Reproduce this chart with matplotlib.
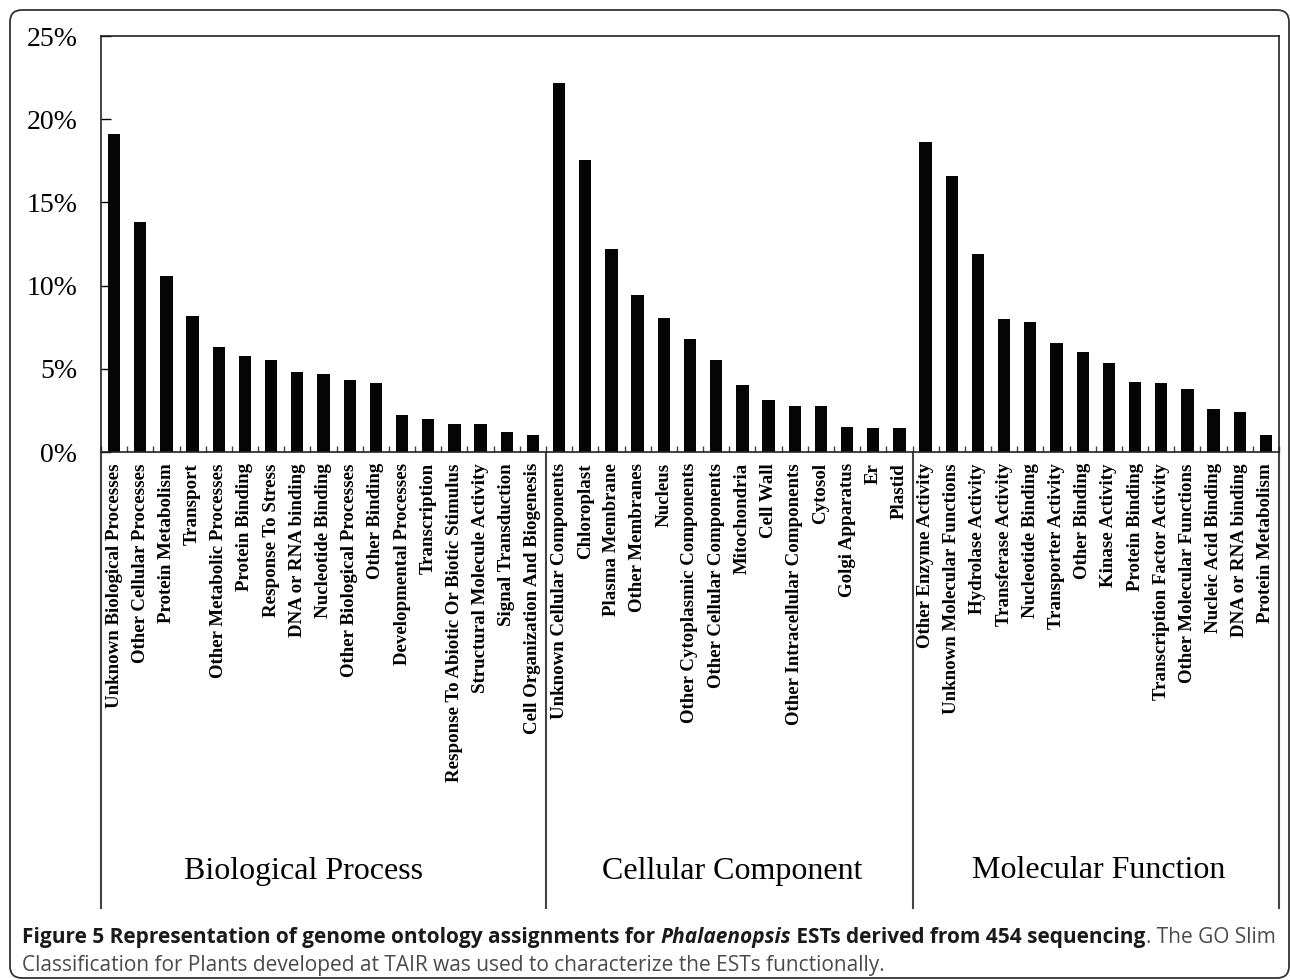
import matplotlib
matplotlib.use("Agg")
import matplotlib.pyplot as plt
from matplotlib.patches import FancyBboxPatch
import numpy as np

bp_labels = ["Unknown Biological Processes", "Other Cellular Processes", "Protein Metabolism",
             "Transport", "Other Metabolic Processes", "Protein Binding", "Response To Stress",
             "DNA or RNA binding", "Nucleotide Binding", "Other Biological Processes",
             "Other Binding", "Developmental Processes", "Transcription",
             "Response To Abiotic Or Biotic Stimulus", "Structural Molecule Activity",
             "Signal Transduction", "Cell Organization And Biogenesis"]
bp_values = [19.14, 13.82, 10.58, 8.17, 6.31, 5.74, 5.52, 4.78, 4.68, 4.30, 4.12, 2.25,
             2.0, 1.68, 1.68, 1.18, 1.03]

cc_labels = ["Unknown Cellular Components", "Chloroplast", "Plasma Membrane", "Other Membranes",
             "Nucleus", "Other Cytoplasmic Components", "Other Cellular Components",
             "Mitochondria", "Cell Wall", "Other Intracellular Components", "Cytosol",
             "Golgi Apparatus", "Er", "Plastid"]
cc_values = [22.19, 17.53, 12.17, 9.42, 8.05, 6.77, 5.54, 4.02, 3.13, 2.79, 2.79, 1.51, 1.43, 1.43]

mf_labels = ["Other Enzyme Activity", "Unknown Molecular Functions", "Hydrolase Activity",
             "Transferase Activity", "Nucleotide Binding", "Transporter Activity",
             "Other Binding", "Kinase Activity", "Protein Binding",
             "Transcription Factor Activity", "Other Molecular Functions",
             "Nucleic Acid Binding", "DNA or RNA binding", "Protein Metabolism"]
mf_values = [18.65, 16.57, 11.87, 7.99, 7.83, 6.57, 6.00, 5.32, 4.22, 4.12, 3.80, 2.61, 2.43, 1.04]

group_names = ["Biological Process", "Cellular Component", "Molecular Function"]
y_ticks = [0, 5, 10, 15, 20, 25]
y_ticklabels = ["0%", "5%", "10%", "15%", "20%", "25%"]

labels = bp_labels + cc_labels + mf_labels
values = bp_values + cc_values + mf_values
n = len(labels)
group_sizes = [len(bp_labels), len(cc_labels), len(mf_labels)]

W, H = 1290, 980
fig = plt.figure(figsize=(W / 100, H / 100), dpi=100)
ax = fig.add_axes([101 / W, 1 - 452 / H, (1279 - 101) / W, (452 - 36) / H])

x = np.arange(n) + 0.5
ax.bar(x, values, width=0.47, color="#050505", edgecolor="none")
ax.set_xlim(0, n)
ax.set_ylim(0, 25)

serif = ["Liberation Serif", "DejaVu Serif"]
ax.set_yticks(y_ticks)
ax.set_yticklabels(y_ticklabels, fontsize=20, family=serif)
ax.tick_params(axis="y", direction="in", length=7, width=1.0, pad=17)

ax.set_xticks(x)
ax.set_xticklabels(labels, rotation=90, fontsize=13.6, fontweight="bold", family=serif,
                   ha="center", va="top")
ax.tick_params(axis="x", which="major", length=0, pad=8)
ax.set_xticks(np.arange(0, n + 1), minor=True)
ax.tick_params(axis="x", which="minor", direction="in", length=4, width=1.0, color="#444444")

for s in ax.spines.values():
    s.set_linewidth(1.2)
    s.set_color("#222222")

# separators below the axis
bounds = np.concatenate([[0], np.cumsum(group_sizes)])
trans = ax.get_xaxis_transform()
y_bottom = -(909 - 452) / (452 - 36)
for b in bounds:
    ax.plot([b, b], [0, y_bottom], transform=trans, color="#444444", lw=1.5,
            clip_on=False, solid_capstyle="butt")

group_x = [7.75, 24.1, 38.1]
for gx, name in zip(group_x, group_names):
    ax.text(gx, -(871 - 452) / (452 - 36), name, transform=trans, ha="center",
            va="center", fontsize=23, family=serif)

# rounded outer frame
box = FancyBboxPatch((0.1, 0.02), 12.79, 9.68, boxstyle="round,pad=0,rounding_size=0.12",
                     transform=fig.dpi_scale_trans, fill=False, edgecolor="#333333", lw=1.3)
fig.patches.append(box)

# caption
sans = ["Open Sans", "DejaVu Sans"]
line1 = [("Figure 5 Representation of genome ontology assignments for ", "bold", "normal", "#1a1a1a"),
         ("Phalaenopsis", "bold", "italic", "#1a1a1a"),
         (" ESTs derived from 454 sequencing", "bold", "normal", "#1a1a1a"),
         (". The GO Slim", "normal", "normal", "#4a4a4a")]
line2 = [("Classification for Plants developed at TAIR was used to characterize the ESTs functionally.",
          "normal", "normal", "#4a4a4a")]

renderer = fig.canvas.get_renderer()

def draw_line(parts, x0, yc, size):
    xp = x0
    for txt, wgt, sty, col in parts:
        t = fig.text(xp / W, 1 - yc / H, txt, fontsize=size, fontweight=wgt, fontstyle=sty,
                     color=col, family=sans, ha="left", va="center")
        bb = t.get_window_extent(renderer=renderer)
        xp += bb.width
    return xp

# fit caption font size to target width
test_size = 12
tmp = []
xp = 0
for txt, wgt, sty, col in line1:
    t = fig.text(0, 0, txt, fontsize=test_size, fontweight=wgt, fontstyle=sty, family=sans)
    xp += t.get_window_extent(renderer=renderer).width
    tmp.append(t)
for t in tmp:
    t.remove()
cap_size = test_size * (1272 - 22) / xp
draw_line(line1, 22, 937, cap_size)
draw_line(line2, 22, 965, cap_size)

fig.savefig("out.png", dpi=100)
